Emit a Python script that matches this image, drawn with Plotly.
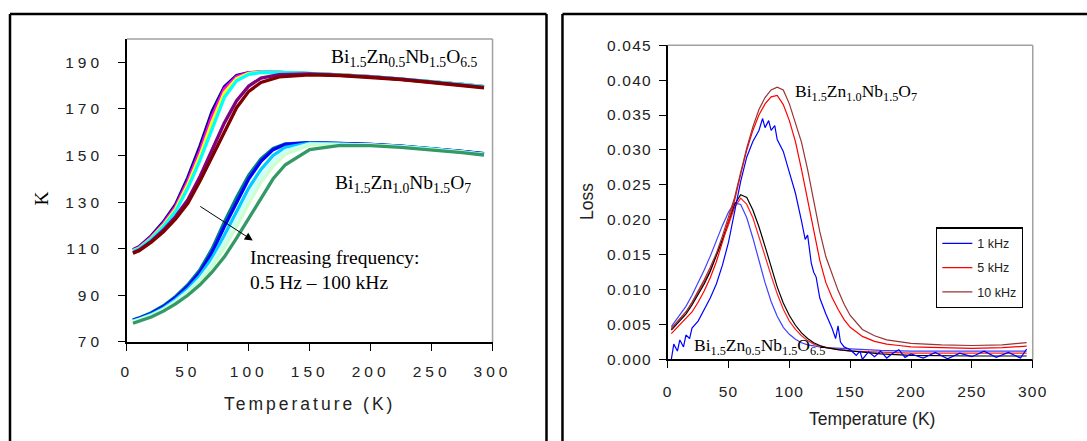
import plotly.graph_objects as go

W, H = 1087, 441

# ---------------- left panel: dielectric constant K vs temperature ----------------
T_up = [5, 10, 20, 30, 40, 50, 60, 70, 80, 90, 100, 110, 125, 150, 175, 200, 225, 250, 275, 293]
K_up_1 = [109.5, 110.8, 115.5, 121.5, 129, 140.5, 154, 169, 179.5, 184.3, 185.5, 185.8, 185.6, 185.2, 184.6, 183.8, 182.8, 181.8, 180.5, 179.5]
K_up_2 = [109.3, 110.5, 115, 120.8, 128, 139, 152, 167, 178.5, 183.8, 185.4, 185.8, 185.6, 185.2, 184.6, 183.8, 182.8, 181.8, 180.5, 179.5]
K_up_3 = [109.1, 110.2, 114.5, 120.1, 127, 137.5, 150, 164.5, 177, 183, 185.2, 185.7, 185.6, 185.2, 184.6, 183.8, 182.8, 181.8, 180.5, 179.5]
K_up_4 = [108.9, 110, 114.1, 119.5, 126, 136, 148, 162, 175, 182, 184.8, 185.6, 185.6, 185.2, 184.6, 183.8, 182.8, 181.8, 180.5, 179.5]
K_up_5 = [108.3, 109.4, 113.2, 118, 123.8, 131, 141, 152.5, 164, 173.5, 179.8, 183.2, 184.7, 185, 184.5, 183.7, 182.7, 181.6, 180.2, 179.2]
K_up_6 = [108, 109.1, 112.8, 117.3, 122.8, 129.5, 139, 149.5, 160.5, 170.5, 177.5, 181.3, 183.7, 184.6, 184.3, 183.5, 182.5, 181.3, 180, 179]

T_lo = [5, 10, 20, 30, 40, 50, 60, 70, 80, 90, 100, 110, 120, 130, 150, 175, 200, 225, 250, 275, 293]
K_lo_1 = [79.5, 80.3, 82.5, 85.5, 89.5, 94.5, 101, 110, 121.5, 132, 141.5, 148.5, 153, 155, 155.5, 155.2, 154.8, 154, 153, 151.8, 150.8]
K_lo_2 = [79.3, 80.1, 82.2, 85.1, 89, 93.8, 100, 108.5, 119.5, 130, 140, 147.5, 152.5, 154.8, 155.5, 155.2, 154.8, 154, 153, 151.8, 150.8]
K_lo_3 = [79, 79.8, 81.8, 84.5, 88.2, 92.7, 98.5, 106, 115.8, 126, 136, 144, 150, 153.5, 155.3, 155, 154.6, 153.9, 152.9, 151.6, 150.6]
K_lo_4 = [78.7, 79.5, 81.4, 84, 87.5, 91.7, 97, 104, 112.8, 122.5, 132.5, 141, 147.5, 152, 155, 154.8, 154.5, 153.8, 152.8, 151.5, 150.5]
K_lo_5 = [78.4, 79.2, 81.1, 83.7, 87, 91, 96, 102.5, 110.5, 119.5, 129.5, 138.5, 145.5, 150.5, 154.5, 154.6, 154.4, 153.7, 152.7, 151.4, 150.4]
K_lo_6 = [78, 78.8, 80.7, 83.2, 86.3, 90, 94.5, 100, 106.5, 114.5, 123, 132, 140, 146, 152.5, 154.3, 154.2, 153.5, 152.5, 151.2, 150.2]

up_colors = ["#000080", "#FF00FF", "#FFFF00", "#00FFFF", "#800080", "#800000"]
lo_colors = ["#008080", "#0000FF", "#00CCFF", "#CCFFFF", "#CCFFCC", "#339966"]

K_ticks = [70, 90, 110, 130, 150, 170, 190]
T_ticks = [0, 50, 100, 150, 200, 250, 300]

# ---------------- right panel: dielectric loss vs temperature ----------------
# Bi1.5Zn1.0Nb1.5O7
T_z10 = [3, 10, 15, 20, 25, 30, 35, 40, 45, 50, 55, 60, 65, 70, 75, 80, 85, 90, 95, 100, 105, 110, 115, 120,
         125, 130, 135, 140, 145, 150, 160, 170, 180, 190, 200, 225, 250, 275, 295]
L_z10_10k = [0.0044, 0.0058, 0.0068, 0.0082, 0.0097, 0.0114, 0.0132, 0.0152, 0.0177, 0.0205, 0.0232, 0.0268, 0.0303,
             0.0333, 0.0358, 0.0375, 0.0386, 0.0390, 0.0386, 0.0366, 0.0340, 0.0311, 0.0272, 0.0228, 0.0183, 0.0147,
             0.0122, 0.0099, 0.0079, 0.0063, 0.0043, 0.0034, 0.0028, 0.0025, 0.0023, 0.0021, 0.0020, 0.0021, 0.0024]
L_z10_5k = [0.0037, 0.0050, 0.0058, 0.0068, 0.0082, 0.0098, 0.0117, 0.0140, 0.0168, 0.0198, 0.0228, 0.0265, 0.0300,
            0.0328, 0.0350, 0.0366, 0.0376, 0.0378, 0.0365, 0.0342, 0.0312, 0.0272, 0.0228, 0.0183, 0.0142, 0.0110,
            0.0089, 0.0072, 0.0057, 0.0046, 0.0033, 0.0026, 0.0022, 0.0020, 0.0018, 0.0017, 0.0016, 0.0017, 0.0019]
T_z10_1k = [3, 5, 8, 10, 13, 15, 18, 20, 25, 30, 35, 40, 45, 50, 55, 60, 65, 70, 75, 78, 80, 83, 85, 88, 90, 95, 100,
            105, 110, 113, 115, 118, 120, 122, 125, 130, 135, 138, 140, 142, 145, 150, 155, 158, 160, 165, 170, 175,
            180, 185, 190, 195, 200, 210, 220, 230, 240, 250, 260, 270, 280, 290, 295]
L_z10_1k = [0.0000, 0.0022, 0.0012, 0.0028, 0.0018, 0.0035, 0.0030, 0.0045, 0.0055, 0.0072, 0.0088, 0.0108, 0.0135,
            0.0168, 0.0210, 0.0255, 0.0290, 0.0312, 0.0328, 0.0345, 0.0332, 0.0342, 0.0328, 0.0335, 0.0315, 0.0298,
            0.0268, 0.0238, 0.0198, 0.0172, 0.0178, 0.0138, 0.0125, 0.0118, 0.0088, 0.0065, 0.0045, 0.0030, 0.0048,
            0.0025, 0.0018, 0.0014, 0.0006, 0.0012, 0.0000, 0.0011, 0.0004, 0.0012, 0.0002, 0.0009, 0.0014, 0.0003,
            0.0008, 0.0002, 0.0010, 0.0001, 0.0009, 0.0004, 0.0012, 0.0003, 0.0010, 0.0002, 0.0015]

# Bi1.5Zn0.5Nb1.5O6.5
T_z05 = [3, 10, 15, 20, 25, 30, 35, 40, 45, 50, 55, 60, 65, 70, 75, 80, 85, 90, 95, 100, 105, 110, 115, 120,
         125, 130, 140, 150, 175, 200, 225, 250, 275, 295]
L_z05_10k = [0.0042, 0.0055, 0.0065, 0.0078, 0.0092, 0.0108, 0.0126, 0.0148, 0.0172, 0.0198, 0.0222, 0.0236, 0.0232,
             0.0214, 0.0190, 0.0162, 0.0132, 0.0104, 0.0081, 0.0063, 0.0049, 0.0038, 0.0030, 0.0024, 0.0020, 0.0017,
             0.0014, 0.0012, 0.0008, 0.0006, 0.0005, 0.0005, 0.0005, 0.0005]
L_z05_5k = [0.0044, 0.0058, 0.0068, 0.0081, 0.0095, 0.0111, 0.0128, 0.0148, 0.0170, 0.0193, 0.0218, 0.0231, 0.0222,
            0.0203, 0.0177, 0.0148, 0.0120, 0.0094, 0.0072, 0.0055, 0.0043, 0.0034, 0.0027, 0.0022, 0.0019, 0.0017,
            0.0014, 0.0012, 0.0010, 0.0009, 0.0009, 0.0009, 0.0009, 0.0009]
L_z05_1k = [0.0047, 0.0063, 0.0076, 0.0092, 0.0109, 0.0128, 0.0148, 0.0170, 0.0192, 0.0211, 0.0224, 0.0222, 0.0203,
            0.0174, 0.0142, 0.0110, 0.0083, 0.0062, 0.0046, 0.0036, 0.0029, 0.0024, 0.0021, 0.0019, 0.0018, 0.0017,
            0.0016, 0.0015, 0.0013, 0.0012, 0.0012, 0.0012, 0.0012, 0.0012]

L_ticks = [0.000, 0.005, 0.010, 0.015, 0.020, 0.025, 0.030, 0.035, 0.040, 0.045]
freq_names = ["1 kHz", "5 kHz", "10 kHz"]

# The page shows the figure slightly inset/scaled, so target screen pixels are
# converted to paper fractions of the drawn area.
X0, Y0 = 3, 8
DW, DH = 1071, 425


def px(x):
    return (x - X0) / DW


def py(y):
    return 1 - (y - Y0) / DH


SANS = "Arial, Liberation Sans, sans-serif"
SERIF = "Times New Roman, Liberation Serif, serif"

fig = go.Figure()

for ys, c in zip([K_up_1, K_up_2, K_up_3, K_up_4, K_up_5, K_up_6], up_colors):
    fig.add_trace(go.Scatter(x=T_up, y=ys, mode="lines", line=dict(color=c, width=3.3),
                             showlegend=False, xaxis="x", yaxis="y", hoverinfo="skip"))
for ys, c in zip([K_lo_1, K_lo_2, K_lo_3, K_lo_4, K_lo_5, K_lo_6], lo_colors):
    fig.add_trace(go.Scatter(x=T_lo, y=ys, mode="lines", line=dict(color=c, width=3.3),
                             showlegend=False, xaxis="x", yaxis="y", hoverinfo="skip"))

fig.add_trace(go.Scatter(x=T_z05, y=L_z05_1k, mode="lines", line=dict(color="#4040FF", width=1.2),
                         showlegend=False, xaxis="x2", yaxis="y2"))
fig.add_trace(go.Scatter(x=T_z05, y=L_z05_5k, mode="lines", line=dict(color="#FF2020", width=1.2),
                         showlegend=False, xaxis="x2", yaxis="y2"))
fig.add_trace(go.Scatter(x=T_z05, y=L_z05_10k, mode="lines", line=dict(color="#000000", width=1.2),
                         showlegend=False, xaxis="x2", yaxis="y2"))
fig.add_trace(go.Scatter(x=T_z10_1k, y=L_z10_1k, mode="lines", line=dict(color="#0000FF", width=1.2),
                         name=freq_names[0], legendgroup="a", xaxis="x2", yaxis="y2"))
fig.add_trace(go.Scatter(x=T_z10, y=L_z10_5k, mode="lines", line=dict(color="#FF0000", width=1.2),
                         name=freq_names[1], legendgroup="b", xaxis="x2", yaxis="y2"))
fig.add_trace(go.Scatter(x=T_z10, y=L_z10_10k, mode="lines", line=dict(color="#993333", width=1.2),
                         name=freq_names[2], legendgroup="c", xaxis="x2", yaxis="y2"))

axis_common = dict(showgrid=False, zeroline=False, showline=True, linecolor="black", linewidth=1.5,
                   ticks="outside", ticklen=7, tickcolor="black", tickwidth=1.2)

fig.update_layout(
    width=W, height=H,
    margin=dict(l=0, r=0, t=0, b=0),
    paper_bgcolor="white", plot_bgcolor="white",
    xaxis=dict(domain=[px(126), px(492)], range=[0, 300], tickvals=T_ticks,
               tickfont=dict(family=SANS, size=15.5, color="#222"), ticklabelstandoff=8,
               title=dict(text="Temperature (K)", font=dict(family=SANS, size=17.5, color="#222"), standoff=18),
               anchor="y", **axis_common),
    yaxis=dict(domain=[py(341.7), py(38)], range=[70, 200], tickvals=K_ticks,
               tickfont=dict(family=SANS, size=15.5, color="#222"), ticklabelstandoff=12,
               anchor="x", **axis_common),
    xaxis2=dict(domain=[px(667.3), px(1032.7)], range=[0, 300], tickvals=T_ticks,
                tickfont=dict(family=SANS, size=15.5, color="#222"), ticklabelstandoff=10,
                anchor="y2", **axis_common),
    yaxis2=dict(domain=[py(359.3), py(44.3)], range=[0, 0.045], tickvals=L_ticks, tickformat=".3f",
                tickfont=dict(family=SANS, size=15.5, color="#222"), ticklabelstandoff=4,
                anchor="x2", **axis_common),
    legend=dict(x=px(936), y=py(227), xanchor="left", yanchor="top",
                bordercolor="black", borderwidth=1.2, bgcolor="white",
                font=dict(family=SANS, size=12.5, color="#222"), tracegroupgap=5),
    showlegend=True,
)

shapes = []
for xr, yr in [("x domain", "y domain"), ("x2 domain", "y2 domain")]:
    shapes.append(dict(type="line", xref=xr, yref=yr, x0=0, x1=1, y0=1, y1=1, line=dict(color="#A0A0A0", width=1.5)))
    shapes.append(dict(type="line", xref=xr, yref=yr, x0=1, x1=1, y0=0, y1=1, line=dict(color="#A0A0A0", width=1.5)))
frame = dict(color="black", width=2.5)
shapes += [
    dict(type="line", xref="paper", yref="paper", x0=px(9), x1=px(9), y0=-0.1, y1=py(13), line=frame),
    dict(type="line", xref="paper", yref="paper", x0=px(9), x1=px(546), y0=py(13), y1=py(13), line=frame),
    dict(type="line", xref="paper", yref="paper", x0=px(546), x1=px(546), y0=-0.1, y1=py(13), line=frame),
    dict(type="line", xref="paper", yref="paper", x0=px(562), x1=px(562), y0=-0.1, y1=py(13), line=frame),
    dict(type="line", xref="paper", yref="paper", x0=px(562), x1=1.1, y0=py(13), y1=py(13), line=frame),
]
fig.update_layout(shapes=shapes)


def note(text, x, y, font, xanchor="center", yanchor="middle", **kw):
    return dict(text=text, xref="paper", yref="paper", x=px(x), y=py(y), xanchor=xanchor, yanchor=yanchor,
                showarrow=False, font=font, **kw)


serif19 = dict(family=SERIF, size=19.5, color="black")
serif17 = dict(family=SERIF, size=17.5, color="black")
ann = [
    note("K", 41, 198, serif19, textangle=-90),
    note("Loss", 586, 201, dict(family=SANS, size=17.5, color="#222"), textangle=-90),
    note("Temperature (K)", 872, 419, dict(family=SANS, size=17.5, color="#222")),
    note("Bi<sub>1.5</sub>Zn<sub>0.5</sub>Nb<sub>1.5</sub>O<sub>6.5</sub>", 328, 57, serif19, xanchor="left"),
    note("Bi<sub>1.5</sub>Zn<sub>1.0</sub>Nb<sub>1.5</sub>O<sub>7</sub>", 332, 183, serif19, xanchor="left"),
    note("Increasing frequency:<br>0.5 Hz \u2013 100 kHz", 247, 270, serif19, xanchor="left", align="left"),
    note("Bi<sub>1.5</sub>Zn<sub>1.0</sub>Nb<sub>1.5</sub>O<sub>7</sub>", 793, 92, serif17, xanchor="left"),
    note("Bi<sub>1.5</sub>Zn<sub>0.5</sub>Nb<sub>1.5</sub>O<sub>6.5</sub>", 692, 346, serif17, xanchor="left"),
    dict(text="", xref="paper", yref="paper", x=px(252), y=py(240), ax=-54, ay=-35,
         showarrow=True, arrowhead=2, arrowsize=1.6, arrowwidth=1, arrowcolor="black"),
]
fig.update_layout(annotations=ann)

post = """
var gd = document.getElementById('{plot_id}');
function sp(sel, v){ gd.querySelectorAll(sel).forEach(function(e){ e.style.letterSpacing = v; }); }
sp('.xtick text', '4px'); sp('.ytick text', '4px'); sp('.xtitle', '3px');
sp('.x2tick text', '1.2px'); sp('.y2tick text', '1.2px');
"""
fig.write_html("out.html", post_script=post)
